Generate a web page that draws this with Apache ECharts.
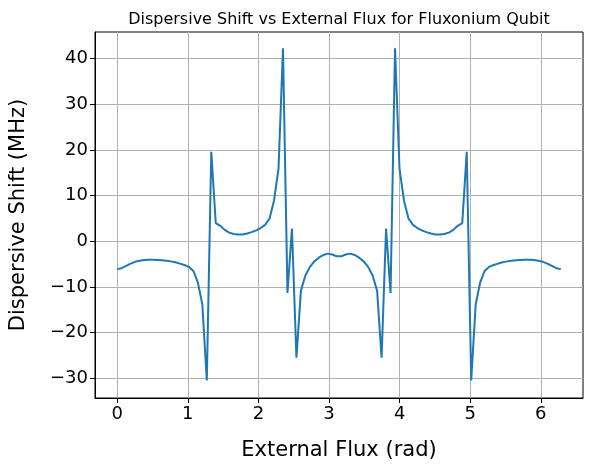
<!DOCTYPE html>
<html><head><meta charset="utf-8">
<script src="https://cdn.jsdelivr.net/npm/echarts@6/dist/echarts.min.js"></script>
<style>html,body{margin:0;padding:0;background:#fff}#c{width:592px;height:466px}</style>
</head><body><div id="c"></div>
<script>
const xTicks = [0, 1, 2, 3, 4, 5, 6];
const yTicks = [-30, -20, -10, 0, 10, 20, 30, 40];
const shift = [-6.1,-5.9,-5.4,-4.9,-4.5,-4.25,-4.1,-4.05,-4.05,-4.1,-4.15,-4.25,-4.4,-4.6,-4.9,-5.2,-5.6,-6.5,-9.0,-13.8,
-30.5,19.6,4.0,3.4,2.5,1.9,1.6,1.5,1.5,1.7,2.0,2.4,2.9,3.6,5.0,8.9,15.9,42.3,-11.3,2.8,
-25.5,-10.8,-7.5,-5.6,-4.4,-3.6,-3.0,-2.7,-2.9,-3.3,
-3.3,-2.9,-2.7,-3.0,-3.6,-4.4,-5.6,-7.5,-10.8,-25.5,
2.8,-11.3,42.3,15.9,8.9,5.0,3.6,2.9,2.4,2.0,1.7,1.5,1.5,1.6,1.9,2.5,3.4,4.0,19.6,-30.5,
-13.8,-9.0,-6.5,-5.6,-5.2,-4.9,-4.6,-4.4,-4.25,-4.15,-4.1,-4.05,-4.05,-4.1,-4.25,-4.5,-4.9,-5.4,-5.9,-6.1];
const flux = shift.map((_, i) => i * 2 * Math.PI / (shift.length - 1));
const font = 'DejaVu Sans';
const chart = echarts.init(document.getElementById('c'));
chart.setOption({
  animation: false,
  title: {text: 'Dispersive Shift vs External Flux for Fluxonium Qubit', left: 334, top: 7, textAlign: 'center',
    textStyle: {fontFamily: font, fontSize: 16, fontWeight: 'normal', color: '#000'}},
  grid: {left: 86, right: 9, top: 32, bottom: 64, show: true, borderColor: '#000', borderWidth: 1, backgroundColor: 'transparent'},
  xAxis: {type: 'value', min: -0.314, max: 6.597, name: 'External Flux (rad)', nameLocation: 'middle', nameGap: 42,
    nameTextStyle: {fontFamily: font, fontSize: 21, color: '#000'},
    axisLine: {onZero: false, lineStyle: {color: '#000'}},
    axisTick: {show: true, customValues: xTicks, length: 5, lineStyle: {color: '#000'}},
    axisLabel: {customValues: xTicks, fontFamily: font, fontSize: 18, color: '#000', margin: 7},
    splitLine: {show: true, lineStyle: {color: '#b0b0b0', width: 1}}},
  yAxis: {type: 'value', min: -34.33, max: 45.85, name: 'Dispersive Shift (MHz)', nameLocation: 'middle', nameGap: 66,
    nameTextStyle: {fontFamily: font, fontSize: 21, color: '#000'},
    axisLine: {show: true, onZero: false, lineStyle: {color: '#000'}},
    axisTick: {show: true, customValues: yTicks, length: 5, lineStyle: {color: '#000'}},
    axisLabel: {customValues: yTicks, fontFamily: font, fontSize: 18, color: '#000', margin: 7,
      formatter: v => v < 0 ? '\u2212' + Math.abs(v) : '' + v},
    splitLine: {show: true, lineStyle: {color: '#b0b0b0', width: 1}}},
  series: [{type: 'line', data: flux.map((x, i) => [x, shift[i]]), showSymbol: false,
    lineStyle: {color: '#1f77b4', width: 2}, itemStyle: {color: '#1f77b4'}}]
});
</script></body></html>
